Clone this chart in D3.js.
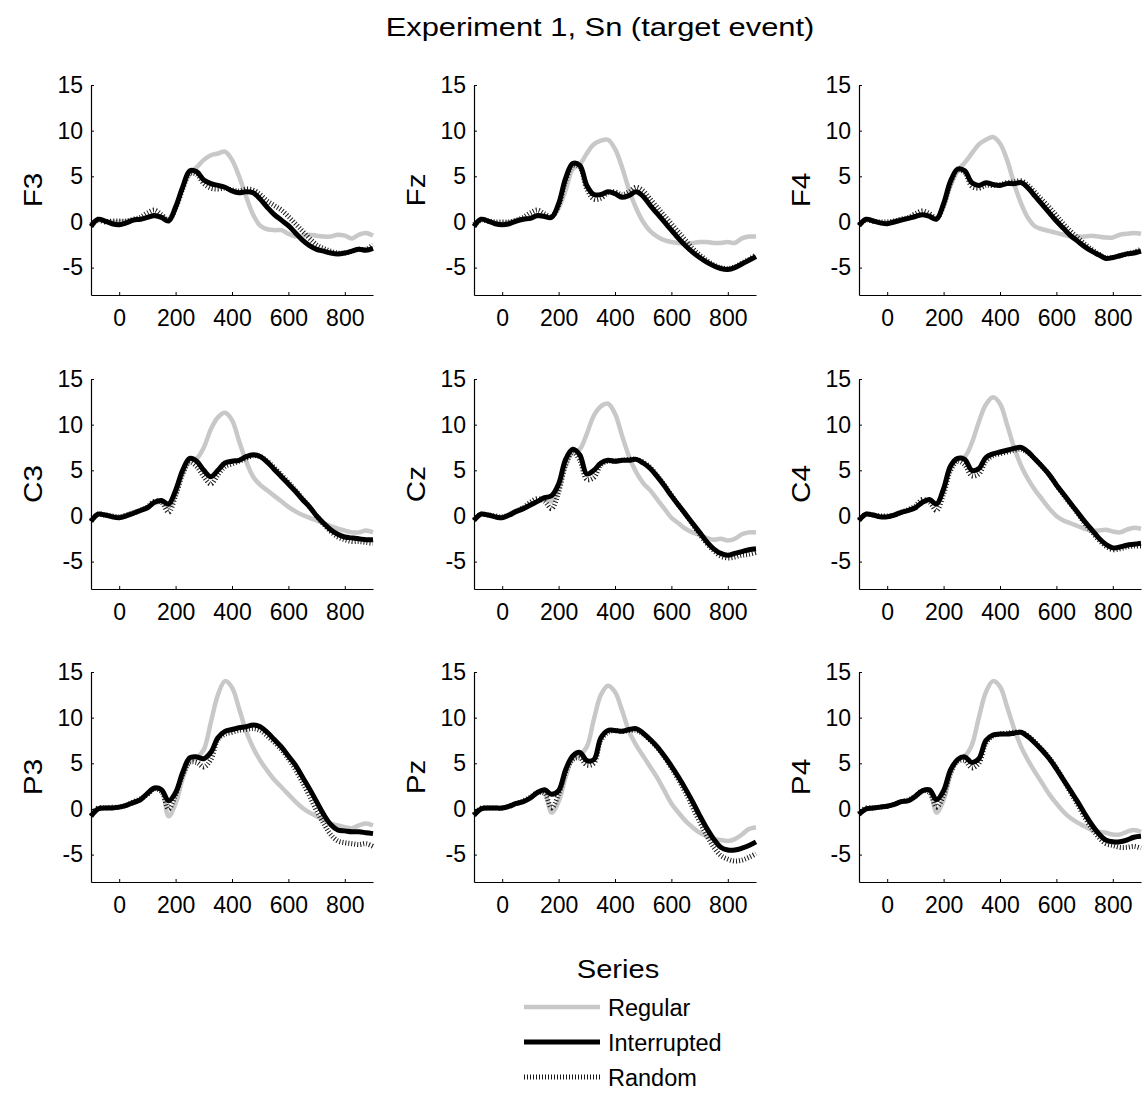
<html lang="en">
<head>
<meta charset="UTF-8">
<title>Experiment 1, Sn (target event)</title>
<script src="https://d3js.org/d3.v7.min.js"></script>
<style>
  body { margin: 0; background: #fff; }
  text { font-family: "Liberation Sans", Arial, sans-serif; fill: #000; }
</style>
</head>
<body>
<div class="chart"></div>
<script>
// sample times (ms)
const times = [-100, -75, -50, -25, 0, 25, 50, 75, 100, 125, 150, 175, 200, 225, 250, 275, 300, 325, 350, 375,
               400, 425, 450, 475, 500, 525, 550, 575, 600, 625, 650, 675, 700, 725, 750, 775, 800, 825, 850, 875, 900];

const channels = ["F3", "Fz", "F4", "C3", "Cz", "C4", "P3", "Pz", "P4"];
const seriesNames = ["Regular", "Interrupted", "Random"];

const xTicks = [0, 200, 400, 600, 800];
const yTicks = [-5, 0, 5, 10, 15];

// amplitude (uV) per channel, one array per series
const regular = {
  F3: [-0.5, 0.2, 0.1, 0, 0, 0.1, 0.2, 0.3, 0.5, 0.6, 0.5, 0.3, 1.8, 3.8, 5.2, 6.0, 6.8, 7.3, 7.5, 7.7, 6.8, 5.0, 2.8, 0.8, -0.4, -0.8, -0.9, -0.9, -1.3, -1.6, -1.5, -1.4, -1.5, -1.6, -1.6, -1.4, -1.5, -1.8, -1.4, -1.2, -1.5],
  Fz: [-0.5, 0.3, 0.1, -0.1, -0.2, 0, 0.2, 0.3, 0.4, 0.6, 0.6, 0.5, 1.5, 3.5, 5.8, 6.3, 7.5, 8.5, 8.9, 9.0, 8.0, 6.0, 3.5, 1.5, 0.0, -1.0, -1.6, -2.0, -2.2, -2.3, -2.4, -2.3, -2.2, -2.2, -2.3, -2.3, -2.2, -2.3, -1.8, -1.6, -1.6],
  F4: [-0.4, 0.3, 0.1, -0.1, -0.1, 0.1, 0.3, 0.4, 0.6, 0.8, 0.7, 0.4, 1.8, 4.0, 5.6, 6.5, 7.5, 8.5, 9.0, 9.3, 8.6, 6.8, 4.2, 2.0, 0.4, -0.5, -0.8, -1.0, -1.2, -1.4, -1.6, -1.6, -1.6, -1.5, -1.6, -1.7, -1.7, -1.4, -1.3, -1.2, -1.3],
  C3: [-0.6, 0.2, 0.1, 0, -0.1, 0.1, 0.4, 0.6, 0.9, 1.4, 1.5, 1.0, 2.3, 4.6, 6.0, 6.3, 7.5, 9.5, 10.8, 11.3, 10.5, 8.2, 6.0, 4.3, 3.4, 2.8, 2.2, 1.6, 1.0, 0.5, 0.1, -0.2, -0.5, -0.8, -1.1, -1.4, -1.6, -1.8, -1.8, -1.6, -1.8],
  Cz: [-0.5, 0.2, 0.1, -0.1, -0.1, 0.2, 0.6, 0.9, 1.2, 1.6, 1.8, 1.6, 3.0, 5.5, 7.0, 7.3, 9.0, 11.0, 12.0, 12.3, 11.2, 8.8, 6.5, 4.8, 3.6, 2.8, 1.8, 0.8, -0.2, -0.8, -1.4, -1.8, -2.1, -2.4, -2.6, -2.5, -2.7, -2.5, -2.0, -1.8, -1.8],
  C4: [-0.5, 0.2, 0.1, -0.1, -0.1, 0.1, 0.4, 0.6, 0.9, 1.5, 1.7, 1.3, 2.8, 5.2, 6.3, 6.5, 8.0, 10.3, 12.2, 13.0, 12.3, 10.0, 7.5, 5.5, 4.0, 2.8, 1.8, 0.8, 0.0, -0.5, -0.8, -1.1, -1.4, -1.6, -1.6, -1.5, -1.7, -1.8, -1.5, -1.3, -1.4],
  P3: [-0.8, 0.0, 0.1, 0.1, 0.2, 0.4, 0.7, 1.0, 1.6, 2.2, 2.1, -0.8, 0.6, 3.3, 5.2, 5.6, 6.5, 9.5, 12.5, 14.0, 13.3, 11.0, 8.5, 6.7, 5.3, 4.2, 3.2, 2.4, 1.6, 0.8, 0.1, -0.4, -0.8, -1.2, -1.6, -1.8, -2.0, -2.1, -1.8, -1.6, -1.8],
  Pz: [-0.7, 0.0, 0.1, 0.1, 0.1, 0.3, 0.6, 0.8, 1.2, 1.8, 1.8, -0.4, 0.8, 3.5, 5.5, 5.9, 6.8, 9.8, 12.5, 13.5, 12.8, 10.8, 8.5, 7.0, 5.8, 4.6, 3.4, 2.0, 0.6, -0.4, -1.3, -2.0, -2.6, -3.0, -3.3, -3.4, -3.5, -3.3, -2.8, -2.2, -2.0],
  P4: [-0.6, 0.0, 0.1, 0.2, 0.3, 0.5, 0.8, 0.9, 1.3, 1.9, 2.0, -0.4, 1.0, 3.8, 5.5, 5.8, 7.0, 10.0, 12.8, 14.0, 13.4, 11.2, 8.8, 6.8, 5.3, 4.0, 2.8, 1.6, 0.6, -0.3, -1.0, -1.5, -1.9, -2.3, -2.5, -2.6, -2.8, -2.8, -2.5, -2.3, -2.5]
};

const interrupted = {
  F3: [-0.5, 0.3, 0.1, -0.2, -0.3, -0.1, 0.2, 0.3, 0.5, 0.7, 0.5, 0.1, 1.6, 3.8, 5.6, 5.5, 4.6, 4.2, 4.0, 3.8, 3.4, 3.2, 3.3, 3.2, 2.5, 1.6, 0.8, 0.2, -0.4, -1.2, -2.0, -2.6, -3.0, -3.2, -3.4, -3.5, -3.4, -3.2, -3.0, -3.1, -2.9],
  Fz: [-0.5, 0.3, 0.1, -0.2, -0.3, -0.2, 0.1, 0.3, 0.4, 0.7, 0.6, 0.5, 2.0, 4.8, 6.4, 6.2, 4.0, 3.0, 3.0, 3.3, 3.1, 2.7, 2.9, 3.3, 2.8, 1.8, 0.9, 0.0, -0.9, -1.8, -2.6, -3.3, -3.9, -4.4, -4.8, -5.1, -5.2, -5.0, -4.6, -4.2, -3.8],
  F4: [-0.4, 0.3, 0.1, -0.1, -0.2, 0, 0.2, 0.4, 0.6, 0.8, 0.6, 0.3, 2.0, 4.5, 5.8, 5.6, 4.3, 4.0, 4.3, 4.1, 4.0, 4.2, 4.2, 4.3, 3.7, 2.8, 1.9, 1.0, 0.1, -0.7, -1.5, -2.1, -2.7, -3.2, -3.6, -4.0, -3.9, -3.7, -3.5, -3.4, -3.2],
  C3: [-0.6, 0.2, 0.1, -0.1, -0.2, 0, 0.3, 0.6, 0.9, 1.5, 1.7, 1.3, 2.8, 5.0, 6.3, 6.0, 5.0, 4.3, 5.0, 5.8, 6.0, 6.1, 6.5, 6.7, 6.5, 5.9, 5.1, 4.3, 3.5, 2.7, 1.8, 1.0, 0.0, -0.8, -1.5, -2.0, -2.3, -2.4, -2.5, -2.6, -2.6],
  Cz: [-0.5, 0.2, 0.1, -0.1, -0.2, 0.1, 0.5, 0.8, 1.2, 1.6, 2.0, 2.2, 3.5, 6.2, 7.3, 6.7, 4.6, 5.0, 5.8, 6.1, 6.0, 6.1, 6.1, 6.2, 5.8, 5.2, 4.3, 3.3, 2.2, 1.2, 0.2, -0.8, -1.8, -2.8, -3.6, -4.1, -4.3, -4.1, -3.9, -3.7, -3.6],
  C4: [-0.5, 0.2, 0.1, -0.1, -0.1, 0.1, 0.4, 0.6, 0.9, 1.5, 1.8, 1.3, 3.0, 5.5, 6.3, 6.2, 5.0, 5.2, 6.4, 6.8, 7.0, 7.2, 7.4, 7.5, 7.0, 6.2, 5.4, 4.5, 3.4, 2.4, 1.4, 0.4, -0.6, -1.5, -2.4, -3.1, -3.5, -3.4, -3.2, -3.1, -3.0],
  P3: [-0.8, 0.0, 0.1, 0.1, 0.2, 0.4, 0.7, 1.0, 1.7, 2.3, 2.1, 0.9, 1.8, 4.0, 5.6, 5.7, 5.5, 6.2, 7.8, 8.5, 8.7, 8.9, 9.0, 9.2, 9.0, 8.4, 7.6, 6.8, 5.8, 4.8, 3.5, 2.2, 0.8, -0.6, -1.7, -2.3, -2.4, -2.5, -2.5, -2.6, -2.7],
  Pz: [-0.7, 0.0, 0.1, 0.1, 0.1, 0.3, 0.6, 0.8, 1.2, 1.8, 2.1, 1.6, 2.0, 4.3, 5.8, 6.2, 5.3, 5.4, 7.8, 8.6, 8.6, 8.5, 8.7, 8.8, 8.3, 7.6, 6.8, 5.8, 4.7, 3.5, 2.2, 0.8, -0.7, -2.1, -3.3, -4.2, -4.5, -4.5, -4.3, -4.0, -3.6],
  P4: [-0.6, 0.0, 0.1, 0.2, 0.3, 0.5, 0.8, 0.9, 1.4, 2.0, 2.1, 1.0, 2.0, 4.3, 5.4, 5.7, 5.1, 5.5, 7.5, 8.1, 8.2, 8.2, 8.3, 8.4, 7.9, 7.2, 6.4, 5.5, 4.4, 3.2, 2.0, 0.8, -0.5, -1.7, -2.7, -3.4, -3.6, -3.6, -3.4, -3.1, -3.0]
};

const random = {
  F3: [-0.3, 0.2, 0, 0.1, 0.1, 0.1, 0.3, 0.5, 1.0, 1.3, 0.8, 0.2, 1.5, 3.6, 5.3, 5.2, 4.2, 3.7, 3.6, 3.7, 3.5, 3.4, 3.6, 3.5, 3.0, 2.3, 1.8, 1.3, 0.6, -0.2, -1.0, -1.8, -2.5, -2.9, -3.2, -3.4, -3.4, -3.2, -3.0, -3.0, -2.5],
  Fz: [-0.3, 0.2, 0.1, 0, 0, 0, 0.2, 0.5, 1.0, 1.3, 0.9, 0.6, 1.8, 4.5, 6.2, 6.0, 3.6, 2.5, 2.6, 3.2, 3.3, 3.0, 3.3, 3.8, 3.4, 2.5, 1.6, 0.7, -0.2, -1.1, -2.0, -2.9, -3.6, -4.2, -4.7, -5.0, -5.1, -4.9, -4.5, -4.1, -3.6],
  F4: [-0.3, 0.2, 0.1, 0, 0, 0.1, 0.3, 0.5, 0.9, 1.2, 0.9, 0.4, 1.8, 4.3, 5.7, 5.4, 3.9, 3.7, 4.0, 4.0, 4.1, 4.3, 4.4, 4.5, 4.0, 3.2, 2.4, 1.6, 0.7, -0.2, -1.0, -1.7, -2.4, -3.0, -3.5, -3.9, -3.9, -3.7, -3.5, -3.3, -3.0],
  C3: [-0.5, 0.2, 0.1, 0, -0.1, 0.1, 0.3, 0.6, 1.0, 1.6, 1.5, 0.4, 2.2, 4.6, 5.9, 5.4, 4.3, 3.5, 4.5, 5.4, 5.7, 6.0, 6.3, 6.6, 6.5, 6.0, 5.3, 4.5, 3.7, 2.8, 1.9, 1.0, 0.0, -0.9, -1.7, -2.3, -2.6, -2.8, -2.8, -2.9, -3.0],
  Cz: [-0.4, 0.2, 0.1, 0, -0.1, 0.1, 0.5, 0.9, 1.5, 1.9, 1.6, 0.8, 2.6, 5.6, 7.0, 6.1, 4.0, 4.2, 5.6, 6.0, 6.0, 6.1, 6.2, 6.2, 5.9, 5.3, 4.4, 3.4, 2.3, 1.2, 0.2, -0.9, -2.0, -3.0, -3.8, -4.4, -4.6, -4.5, -4.3, -4.2, -4.0],
  C4: [-0.4, 0.2, 0.1, 0, 0, 0.1, 0.4, 0.7, 1.1, 1.8, 1.5, 0.6, 2.4, 5.0, 6.0, 5.6, 4.4, 4.6, 6.0, 6.6, 6.8, 7.0, 7.2, 7.3, 6.9, 6.2, 5.4, 4.5, 3.4, 2.3, 1.3, 0.3, -0.8, -1.7, -2.6, -3.3, -3.7, -3.6, -3.4, -3.3, -3.3],
  P3: [-0.7, 0.1, 0.1, 0.2, 0.2, 0.4, 0.8, 1.1, 1.6, 2.2, 1.9, 0.0, 1.5, 3.7, 5.1, 5.1, 4.6, 5.4, 7.6, 8.2, 8.4, 8.6, 8.7, 8.8, 8.6, 8.0, 7.3, 6.5, 5.5, 4.3, 2.9, 1.4, -0.2, -1.6, -2.8, -3.5, -3.7, -3.8, -3.9, -3.8, -4.1],
  Pz: [-0.6, 0.1, 0.1, 0.1, 0.1, 0.3, 0.6, 0.9, 1.3, 1.8, 1.7, 0.1, 1.6, 4.0, 5.4, 5.6, 4.8, 5.0, 7.5, 8.4, 8.6, 8.5, 8.6, 8.6, 8.2, 7.5, 6.7, 5.7, 4.5, 3.2, 1.8, 0.2, -1.4, -2.9, -4.2, -5.1, -5.5, -5.7, -5.6, -5.3, -4.9],
  P4: [-0.5, 0.1, 0.1, 0.2, 0.3, 0.5, 0.8, 1.0, 1.4, 2.0, 1.8, 0.2, 1.5, 4.0, 5.2, 5.3, 4.5, 5.0, 7.2, 8.0, 8.2, 8.3, 8.4, 8.4, 8.0, 7.3, 6.5, 5.6, 4.5, 3.2, 1.8, 0.5, -0.9, -2.1, -3.1, -3.8, -4.0, -4.2, -4.2, -4.1, -4.3]
};

const seriesData = { Regular: regular, Interrupted: interrupted, Random: random };

const styles = {
  Regular:     { stroke: "#c8c8c8", width: 4.5, dash: null },
  Interrupted: { stroke: "#000000", width: 5,   dash: null },
  Random:      { stroke: "#1a1a1a", width: 5,   dash: "1,2" }
};
const drawOrder = ["Regular", "Random", "Interrupted"];

const W = 1144, H = 1093;
const colLeft = [91, 474, 859];
const rowTop = [85, 379, 672];
const pw = 282, ph = 210;
const stretch = 1.165; // title-like texts are a bit wider in the original

const svg = d3.select(".chart").append("svg")
  .attr("width", W)
  .attr("height", H);

svg.append("text")
  .attr("transform", `translate(600,36) scale(${stretch},1)`)
  .attr("text-anchor", "middle")
  .attr("font-size", "26.5px")
  .text("Experiment 1, Sn (target event)");

const x = d3.scaleLinear().domain([-100, 900]).range([0, pw]);
const y = d3.scaleLinear().domain([-8, 15]).range([ph, 0]);

const line = d3.line()
  .x((d, i) => x(times[i]))
  .y(d => y(d))
  .curve(d3.curveCatmullRom);

channels.forEach((ch, k) => {
  const g = svg.append("g")
    .attr("transform", `translate(${colLeft[k % 3]},${rowTop[Math.floor(k / 3)]})`);

  drawOrder.forEach(s => {
    g.append("path")
      .datum(seriesData[s][ch])
      .attr("fill", "none")
      .attr("stroke", styles[s].stroke)
      .attr("stroke-width", styles[s].width)
      .attr("stroke-dasharray", styles[s].dash)
      .attr("stroke-linejoin", "round")
      .attr("d", line);
  });

  const xa = g.append("g")
    .attr("transform", `translate(0,${ph})`)
    .call(d3.axisBottom(x).tickValues(xTicks).tickFormat(d => String(d))
      .tickSizeInner(-3).tickSizeOuter(0).tickPadding(15));
  const ya = g.append("g")
    .call(d3.axisLeft(y).tickValues(yTicks).tickFormat(d => String(d))
      .tickSizeInner(-3).tickSizeOuter(0).tickPadding(8));

  [xa, ya].forEach(a => {
    a.select(".domain").attr("stroke", "#000").attr("stroke-width", 1.2);
    a.selectAll(".tick line").attr("stroke", "#000");
    a.selectAll(".tick text")
      .attr("font-size", "23px")
      .attr("font-family", "Liberation Sans, Arial, sans-serif");
  });

  g.append("text")
    .attr("transform", `translate(-49,${ph / 2}) rotate(-90) scale(${stretch},1)`)
    .attr("text-anchor", "middle")
    .attr("font-size", "25.5px")
    .text(ch);
});

// legend
const legend = svg.append("g");
legend.append("text")
  .attr("transform", `translate(618,978) scale(${stretch},1)`)
  .attr("text-anchor", "middle")
  .attr("font-size", "25px")
  .text("Series");

seriesNames.forEach((s, i) => {
  const ly = 1007 + i * 35;
  legend.append("line")
    .attr("x1", 524).attr("x2", 600)
    .attr("y1", ly).attr("y2", ly)
    .attr("stroke", styles[s].stroke)
    .attr("stroke-width", styles[s].width)
    .attr("stroke-dasharray", styles[s].dash);
  legend.append("text")
    .attr("x", 608)
    .attr("y", ly + 9)
    .attr("font-size", "23.5px")
    .text(s);
});
</script>
</body>
</html>
